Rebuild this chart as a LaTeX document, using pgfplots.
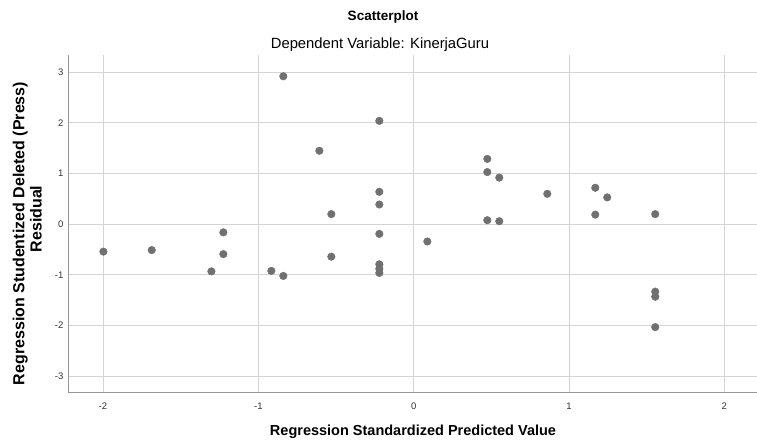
\documentclass[border=0pt]{standalone}
\usepackage{fontspec}
\setmainfont{Liberation Sans}
\usepackage{pgfplots}
\pgfplotsset{compat=1.18}
\definecolor{gridc}{RGB}{212,212,212}
\definecolor{axc}{RGB}{150,150,150}
\definecolor{markc}{RGB}{112,112,112}
\definecolor{tickc}{RGB}{50,50,50}
\begin{document}
\begin{tikzpicture}
\path[use as bounding box] (-68pt,-53pt) rectangle (689pt,393pt);
\begin{axis}[at={(0pt,0pt)}, anchor=south west, scale only axis,
 width=689pt, height=338pt,
 xmin=-2.225, xmax=2.21, ymin=-3.33, ymax=3.34,
 axis lines*=left, axis line style={axc, line width=1pt},
 xtick={-2,-1,0,1,2}, ytick={-3,-2,-1,0,1,2,3},
 xticklabels={-2,-1,0,1,2}, yticklabels={-3,-2,-1,0,1,2,3},
 major tick length=0pt,
 grid=major, major grid style={gridc, line width=0.9pt},
 ticklabel style={font=\fontsize{9.5}{10}\selectfont, text=tickc, inner sep=0pt},
 xticklabel style={yshift=-9.4pt},
 yticklabel style={xshift=-4.5pt},
 clip=false,
]
\addplot[only marks, mark=*, mark size=3.8pt, mark options={fill=markc, draw=markc}] coordinates {
(-1.997,-0.54) (-1.686,-0.51) (-1.302,-0.93) (-1.225,-0.16) (-1.225,-0.59)
(-0.916,-0.92) (-0.839,-1.02) (-0.839,2.92) (-0.607,1.45) (-0.530,0.20)
(-0.530,-0.64) (-0.221,2.04) (-0.221,0.64) (-0.221,0.39) (-0.221,-0.19)
(-0.221,-0.79) (-0.221,-0.88) (-0.221,-0.96) (0.088,-0.34) (0.474,1.29)
(0.474,1.03) (0.474,0.08) (0.551,0.92) (0.551,0.06) (0.860,0.60)
(1.169,0.72) (1.169,0.19) (1.246,0.53) (1.555,0.20) (1.555,-1.33)
(1.555,-1.43) (1.555,-2.03)
};
\end{axis}
\node[font=\bfseries\fontsize{13.5}{14}\selectfont, anchor=base] at (315pt,372pt) {Scatterplot};
\node[font=\fontsize{14.8}{15}\selectfont, anchor=base] at (312pt,344pt) {Dependent Variable: KinerjaGuru};
\node[font=\bfseries\fontsize{14.5}{15}\selectfont, anchor=base] at (345pt,-43pt) {Regression Standardized Predicted Value};
\node[font=\bfseries\fontsize{16}{17}\selectfont, anchor=base, rotate=90] at (-43.5pt,159.5pt) {Regression Studentized Deleted (Press)};
\node[font=\bfseries\fontsize{16}{17}\selectfont, anchor=base, rotate=90] at (-26.5pt,174pt) {Residual};
\end{tikzpicture}
\end{document}
